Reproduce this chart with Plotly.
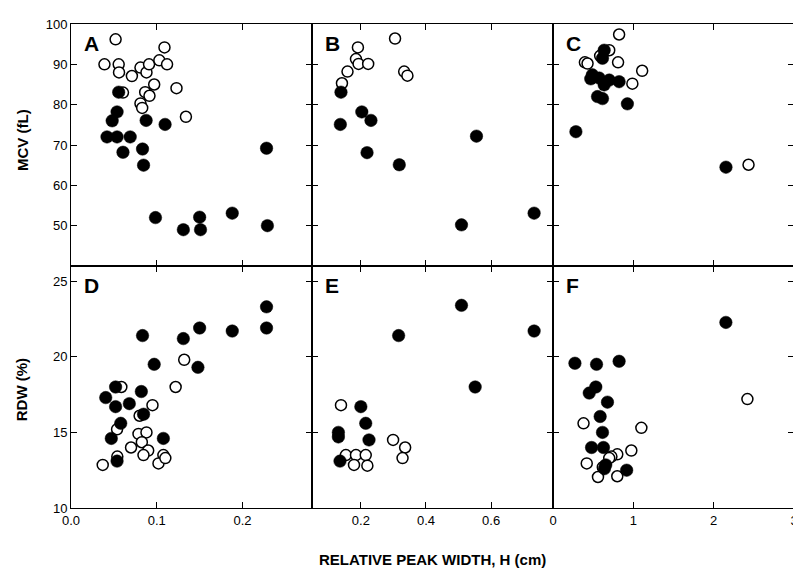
import plotly.graph_objects as go
from plotly.subplots import make_subplots

# ---------------- data ----------------
A_open_x = [0.052, 0.039, 0.0556, 0.056, 0.071, 0.081, 0.088, 0.091, 0.103, 0.109, 0.112, 0.097, 0.0865, 0.0915, 0.081, 0.083, 0.123, 0.134, 0.0606]
A_open_y = [96.2, 90, 90, 88, 87.1, 89.2, 88, 90, 91, 94.2, 90, 85, 83.1, 82.2, 80.3, 79.2, 84.1, 77, 83]
A_fill_x = [0.0556, 0.0537, 0.048, 0.0876, 0.1097, 0.042, 0.0537, 0.069, 0.0606, 0.0834, 0.0846, 0.228, 0.0985, 0.131, 0.150, 0.151, 0.188, 0.229]
A_fill_y = [83.1, 78.2, 76, 76.1, 75.1, 72, 72, 72, 68.2, 69, 65, 69.2, 52, 49, 52.1, 49, 53.1, 50]

B_open_x = [0.305, 0.191, 0.185, 0.193, 0.2225, 0.159, 0.142, 0.333, 0.343]
B_open_y = [96.4, 94.2, 91.3, 90.1, 90.1, 88.2, 85.3, 88.2, 87.2]
B_fill_x = [0.139, 0.137, 0.203, 0.231, 0.219, 0.318, 0.555, 0.509, 0.732]
B_fill_y = [83.1, 75.1, 78.2, 76.1, 68.1, 65.1, 72.2, 50.2, 53.1]

C_open_x = [0.823, 0.70, 0.587, 0.397, 0.43, 0.81, 1.11, 0.988, 2.434]
C_open_y = [97.4, 93.5, 92.1, 90.5, 90.2, 90.5, 88.4, 85.2, 65.1]
C_fill_x = [0.637, 0.616, 0.49, 0.47, 0.575, 0.70, 0.823, 0.637, 0.554, 0.616, 0.926, 0.285, 2.153]
C_fill_y = [93.5, 91.5, 87.4, 86.4, 86.6, 86.1, 85.7, 84.9, 82.0, 81.5, 80.2, 73.3, 64.5]

D_open_x = [0.0587, 0.132, 0.122, 0.095, 0.080, 0.0537, 0.0787, 0.088, 0.0826, 0.070, 0.090, 0.0845, 0.1077, 0.102, 0.054, 0.037, 0.110]
D_open_y = [18.0, 19.8, 18.0, 16.8, 16.1, 15.2, 14.9, 15.0, 14.35, 14.0, 13.8, 13.5, 13.5, 12.95, 13.4, 12.85, 13.3]
D_fill_x = [0.228, 0.228, 0.188, 0.150, 0.131, 0.0834, 0.097, 0.148, 0.052, 0.082, 0.0405, 0.052, 0.068, 0.0846, 0.058, 0.047, 0.1077, 0.0537]
D_fill_y = [23.3, 21.9, 21.7, 21.9, 21.2, 21.4, 19.5, 19.3, 18.0, 17.7, 17.3, 16.7, 16.9, 16.2, 15.6, 14.6, 14.6, 13.1]

E_open_x = [0.139, 0.299, 0.336, 0.328, 0.154, 0.185, 0.215, 0.179, 0.22]
E_open_y = [16.8, 14.5, 14.0, 13.3, 13.5, 13.5, 13.5, 12.85, 12.8]
E_fill_x = [0.509, 0.316, 0.732, 0.551, 0.2, 0.215, 0.131, 0.131, 0.225, 0.136]
E_fill_y = [23.4, 21.4, 21.7, 18.0, 16.7, 15.6, 15.0, 14.7, 14.5, 13.1]

F_open_x = [2.42, 0.38, 1.10, 0.975, 0.80, 0.727, 0.42, 0.80, 0.56, 0.70, 0.62]
F_open_y = [17.2, 15.6, 15.3, 13.8, 13.55, 13.4, 12.95, 12.1, 12.05, 13.3, 12.7]
F_fill_x = [2.152, 0.273, 0.542, 0.823, 0.533, 0.451, 0.678, 0.587, 0.616, 0.48, 0.628, 0.657, 0.64, 0.917]
F_fill_y = [22.27, 19.57, 19.5, 19.7, 18.0, 17.6, 17.0, 16.05, 15.0, 14.0, 14.0, 12.85, 12.6, 12.5]

panel_letters = ["A", "B", "C", "D", "E", "F"]
x_ranges = [[0, 0.281], [0.05, 0.79], [0, 3.0]]
x_tickvals = [[0, 0.1, 0.2], [0.2, 0.4, 0.6], [0, 1, 2, 3]]
x_ticktext = [["0.0", "0.1", "0.2"], ["0.2", "0.4", "0.6"], ["0", "1", "2", "3"]]
y_ranges = [[40, 100], [10, 26]]
y_tickvals = [[50, 60, 70, 80, 90, 100], [10, 15, 20, 25]]
y_titles = ["MCV (fL)", "RDW (%)"]
x_title = "RELATIVE PEAK WIDTH, H (cm)"

panels = [
    (A_open_x, A_open_y, A_fill_x, A_fill_y),
    (B_open_x, B_open_y, B_fill_x, B_fill_y),
    (C_open_x, C_open_y, C_fill_x, C_fill_y),
    (D_open_x, D_open_y, D_fill_x, D_fill_y),
    (E_open_x, E_open_y, E_fill_x, E_fill_y),
    (F_open_x, F_open_y, F_fill_x, F_fill_y),
]

# ---------------- figure ----------------
fig = make_subplots(rows=2, cols=3, horizontal_spacing=0, vertical_spacing=0)

for i, (ox, oy, fx, fy) in enumerate(panels):
    r, c = i // 3 + 1, i % 3 + 1
    fig.add_trace(go.Scatter(x=ox, y=oy, mode="markers", showlegend=False,
                             marker=dict(symbol="circle", size=11, color="white",
                                         line=dict(color="black", width=1.5))),
                  row=r, col=c)
    fig.add_trace(go.Scatter(x=fx, y=fy, mode="markers", showlegend=False,
                             marker=dict(symbol="circle", size=12.5, color="black",
                                         line=dict(color="black", width=0.5))),
                  row=r, col=c)

tickfont = dict(family="Arial, Liberation Sans, sans-serif", size=13, color="black")
for r in (1, 2):
    for c in (1, 2, 3):
        fig.update_xaxes(range=x_ranges[c - 1], tickvals=x_tickvals[c - 1],
                         ticktext=x_ticktext[c - 1], showticklabels=(r == 2),
                         ticks="inside", ticklen=6, tickwidth=1.2, tickcolor="black",
                         showline=True, linecolor="black", linewidth=1, mirror="ticks",
                         showgrid=False, zeroline=False, tickfont=tickfont,
                         ticklabeloverflow="allow",
                         row=r, col=c)
        fig.update_yaxes(range=y_ranges[r - 1], tickvals=y_tickvals[r - 1],
                         showticklabels=(c == 1),
                         ticks="inside", ticklen=6, tickwidth=1.2, tickcolor="black",
                         showline=True, linecolor="black", linewidth=1, mirror="ticks",
                         showgrid=False, zeroline=False, tickfont=tickfont,
                         row=r, col=c)

# panel letters
for i, letter in enumerate(panel_letters):
    r, c = i // 3 + 1, i % 3 + 1
    idx = (r - 1) * 3 + c
    xref = "x domain" if idx == 1 else f"x{idx} domain"
    yref = "y domain" if idx == 1 else f"y{idx} domain"
    fig.add_annotation(text=f"<b>{letter}</b>", xref=xref, yref=yref, x=0.045, y=0.975,
                       xanchor="left", yanchor="top", showarrow=False,
                       font=dict(family="Arial, Liberation Sans, sans-serif", size=21, color="black"))

titlefont = dict(family="Arial, Liberation Sans, sans-serif", size=15, color="black")
fig.add_annotation(text=f"<b>{y_titles[0]}</b>", xref="paper", yref="paper", x=-0.068, y=0.76,
                   textangle=-90, showarrow=False, font=titlefont, xanchor="center", yanchor="middle")
fig.add_annotation(text=f"<b>{y_titles[1]}</b>", xref="paper", yref="paper", x=-0.068, y=0.245,
                   textangle=-90, showarrow=False, font=titlefont, xanchor="center", yanchor="middle")
fig.add_annotation(text=f"<b>{x_title}</b>", xref="paper", yref="paper", x=0.5, y=-0.106,
                   showarrow=False, font=titlefont, xanchor="center", yanchor="middle")

# the page body adds an 8px offset, so margins are reduced to compensate
fig.update_layout(width=801, height=574, margin=dict(l=63, r=15, t=9, b=74),
                  paper_bgcolor="white", plot_bgcolor="white")

fig.write_html("out.html")
